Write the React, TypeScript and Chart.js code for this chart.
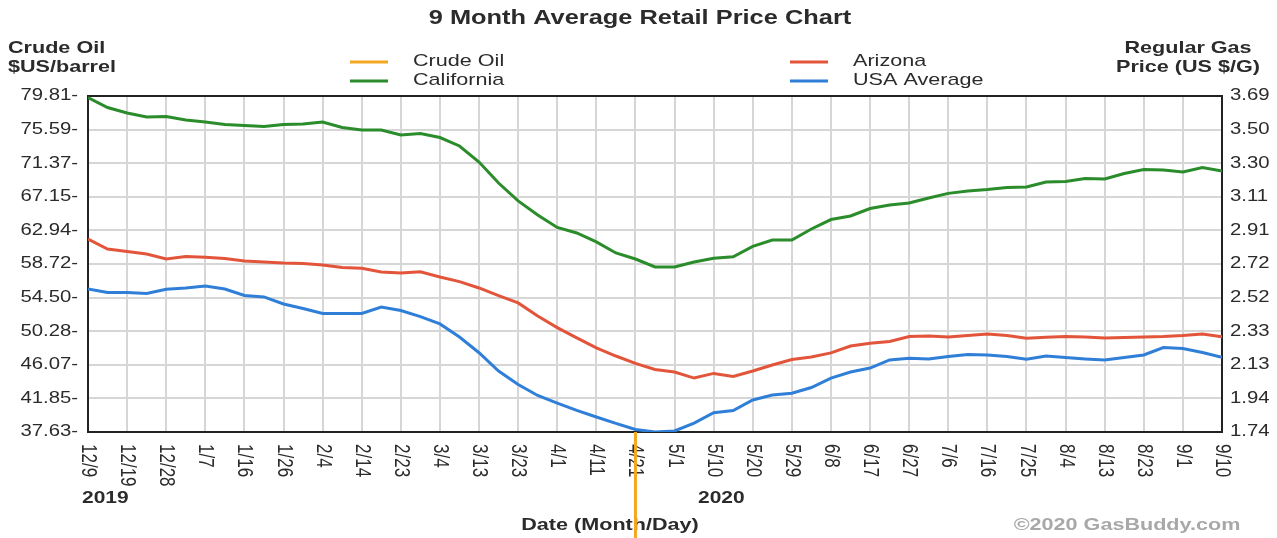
import React, { useEffect, useRef } from "react";
import { Chart, registerables } from "chart.js";

Chart.register(...registerables);

// ---- Data ----
const xTickLabels = [
  "12/9", "12/19", "12/28", "1/7", "1/16", "1/26", "2/4", "2/14", "2/23", "3/4",
  "3/13", "3/23", "4/1", "4/11", "4/21", "5/1", "5/10", "5/20", "5/29", "6/8",
  "6/17", "6/27", "7/6", "7/16", "7/25", "8/4", "8/13", "8/23", "9/1", "9/10",
];
const leftTickLabels = ["37.63", "41.85", "46.07", "50.28", "54.50", "58.72", "62.94", "67.15", "71.37", "75.59", "79.81"];
const rightTickLabels = ["1.74", "1.94", "2.13", "2.33", "2.52", "2.72", "2.91", "3.11", "3.30", "3.50", "3.69"];
const LEFT_MIN = 37.63;
const LEFT_MAX = 79.81;
const RIGHT_MIN = 1.74;
const RIGHT_MAX = 3.69;

// Gas prices ($/gal), one reading every half tick interval (12/9/2019 .. 9/10/2020)
const california = [
  3.681, 3.623, 3.591, 3.568, 3.571, 3.551, 3.539, 3.525, 3.519, 3.513,
  3.525, 3.528, 3.539, 3.507, 3.493, 3.493, 3.464, 3.472, 3.449, 3.400,
  3.307, 3.185, 3.081, 2.999, 2.927, 2.895, 2.843, 2.779, 2.744, 2.698,
  2.698, 2.727, 2.748, 2.757, 2.817, 2.854, 2.854, 2.918, 2.973, 2.994,
  3.037, 3.057, 3.069, 3.098, 3.125, 3.139, 3.147, 3.159, 3.162, 3.191,
  3.194, 3.211, 3.208, 3.240, 3.263, 3.261, 3.249, 3.275, 3.255,
];
const arizona = [
  2.860, 2.802, 2.788, 2.773, 2.744, 2.759, 2.754, 2.747, 2.732, 2.727,
  2.721, 2.718, 2.709, 2.695, 2.690, 2.669, 2.663, 2.670, 2.640, 2.613,
  2.576, 2.532, 2.489, 2.413, 2.346, 2.286, 2.228, 2.181, 2.138, 2.103,
  2.088, 2.053, 2.080, 2.062, 2.094, 2.129, 2.161, 2.175, 2.199, 2.239,
  2.255, 2.265, 2.294, 2.297, 2.291, 2.300, 2.309, 2.300, 2.284, 2.290,
  2.294, 2.291, 2.286, 2.288, 2.291, 2.294, 2.300, 2.309, 2.293,
];
const usaAverage = [
  2.570, 2.550, 2.550, 2.544, 2.568, 2.576, 2.587, 2.570, 2.532, 2.524,
  2.483, 2.457, 2.428, 2.428, 2.428, 2.465, 2.445, 2.410, 2.367, 2.291,
  2.200, 2.094, 2.016, 1.952, 1.908, 1.865, 1.827, 1.790, 1.755, 1.740,
  1.746, 1.792, 1.852, 1.865, 1.926, 1.955, 1.965, 1.998, 2.053, 2.088,
  2.111, 2.158, 2.168, 2.164, 2.178, 2.190, 2.187, 2.178, 2.162, 2.181,
  2.172, 2.164, 2.158, 2.172, 2.187, 2.230, 2.225, 2.201, 2.174,
];
// Crude oil ($/barrel): the only visible part is the plunge on 4/21
const crudeOilTick = 14;
const crudeOil = [37.63, -37.63];

const COLORS = {
  crude: "#f5a623",
  california: "#2a8c2a",
  arizona: "#e2553a",
  usa: "#2f7fd8",
  grid: "#d6d6d6",
  frame: "#222222",
  text: "#2b2b2b",
  copyright: "#a8a8a8",
};
const FONT = '"Liberation Sans", Arial, sans-serif';
const SX = 1.27; // horizontal stretch of all lettering

const toPoints = (arr: number[]) => arr.map((v, i) => ({ x: i / 2, y: v }));

function sText(ctx: CanvasRenderingContext2D, text: string, x: number, y: number, font: string, align: "left" | "right" | "center", color: string) {
  ctx.save();
  ctx.font = font;
  ctx.fillStyle = color;
  ctx.textBaseline = "middle";
  ctx.textAlign = "left";
  const w = ctx.measureText(text).width * SX;
  const left = align === "left" ? x : align === "right" ? x - w : x - w / 2;
  ctx.translate(left, y);
  ctx.scale(SX, 1);
  ctx.fillText(text, 0, 0);
  ctx.restore();
}

const decorPlugin = {
  id: "decor",
  beforeDatasetsDraw(chart: any) {
    const { ctx, chartArea } = chart;
    ctx.save();
    ctx.strokeStyle = COLORS.frame;
    ctx.lineWidth = 2;
    ctx.strokeRect(chartArea.left, chartArea.top, chartArea.right - chartArea.left, chartArea.bottom - chartArea.top);
    ctx.restore();
  },
  beforeDraw(chart: any) {
    const { ctx, chartArea, scales } = chart;
    // Title
    sText(ctx, "9 Month Average Retail Price Chart", 640, 18, `bold 20px ${FONT}`, "center", COLORS.text);
    // Axis titles
    sText(ctx, "Crude Oil", 8, 48, `bold 17px ${FONT}`, "left", COLORS.text);
    sText(ctx, "$US/barrel", 8, 67, `bold 17px ${FONT}`, "left", COLORS.text);
    sText(ctx, "Regular Gas", 1188, 48, `bold 17px ${FONT}`, "center", COLORS.text);
    sText(ctx, "Price (US $/G)", 1188, 67, `bold 17px ${FONT}`, "center", COLORS.text);
    // Legend
    const legend = [
      { label: "Crude Oil", color: COLORS.crude, x: 350, y: 62 },
      { label: "California", color: COLORS.california, x: 350, y: 81 },
      { label: "Arizona", color: COLORS.arizona, x: 790, y: 62 },
      { label: "USA Average", color: COLORS.usa, x: 790, y: 81 },
    ];
    legend.forEach((l) => {
      ctx.save();
      ctx.strokeStyle = l.color;
      ctx.lineWidth = 3;
      ctx.beginPath();
      ctx.moveTo(l.x, l.y);
      ctx.lineTo(l.x + 38, l.y);
      ctx.stroke();
      ctx.restore();
      sText(ctx, l.label, l.x + 63, l.y - 1, `17px ${FONT}`, "left", COLORS.text);
    });
    // Left and right tick labels
    const yl = scales.y;
    leftTickLabels.forEach((lab, k) => {
      const py = yl.getPixelForValue(LEFT_MIN + (k * (LEFT_MAX - LEFT_MIN)) / (leftTickLabels.length - 1));
      sText(ctx, lab + "-", chartArea.left - 10, py, `16px ${FONT}`, "right", COLORS.text);
      const ry = scales.y1.getPixelForValue(RIGHT_MIN + (k * (RIGHT_MAX - RIGHT_MIN)) / (rightTickLabels.length - 1));
      sText(ctx, rightTickLabels[k], chartArea.right + 8, ry, `16px ${FONT}`, "left", COLORS.text);
    });
    // Rotated x tick labels (reading downward)
    const xs = scales.x;
    xTickLabels.forEach((lab, i) => {
      const px = xs.getPixelForValue(i);
      ctx.save();
      ctx.font = `17px ${FONT}`;
      ctx.fillStyle = COLORS.text;
      ctx.translate(px, chartArea.bottom + 12);
      ctx.scale(SX, 1);
      ctx.rotate(Math.PI / 2);
      ctx.textAlign = "left";
      ctx.textBaseline = "middle";
      ctx.fillText(lab, 0, 0);
      ctx.restore();
    });
    // Years, axis name, copyright
    sText(ctx, "2019", 82, 498, `bold 16.5px ${FONT}`, "left", COLORS.text);
    sText(ctx, "2020", 698, 498, `bold 16.5px ${FONT}`, "left", COLORS.text);
    sText(ctx, "Date (Month/Day)", 610, 525, `bold 17px ${FONT}`, "center", COLORS.text);
    sText(ctx, "\u00A92020 GasBuddy.com", 1127, 525, `bold 17px ${FONT}`, "center", COLORS.copyright);
  },
};

export default function App() {
  const canvasRef = useRef<HTMLCanvasElement | null>(null);

  useEffect(() => {
    const canvas = canvasRef.current;
    if (!canvas) return;
    const chart = new Chart(canvas, {
      type: "line",
      data: {
        datasets: [
          {
            label: "Crude Oil",
            data: crudeOil.map((v) => ({ x: crudeOilTick, y: v })),
            borderColor: COLORS.crude,
            borderWidth: 3,
            pointRadius: 0,
            yAxisID: "y",
            clip: false as any,
            order: 0,
          },
          {
            label: "California",
            data: toPoints(california),
            borderColor: COLORS.california,
            borderWidth: 3,
            pointRadius: 0,
            yAxisID: "y1",
          },
          {
            label: "Arizona",
            data: toPoints(arizona),
            borderColor: COLORS.arizona,
            borderWidth: 3,
            pointRadius: 0,
            yAxisID: "y1",
          },
          {
            label: "USA Average",
            data: toPoints(usaAverage),
            borderColor: COLORS.usa,
            borderWidth: 3,
            pointRadius: 0,
            yAxisID: "y1",
          },
        ],
      },
      options: {
        responsive: false,
        animation: false,
        devicePixelRatio: 1,
        layout: { padding: { top: 96, left: 0, right: 0, bottom: 0 } },
        elements: { line: { tension: 0 } },
        plugins: {
          legend: { display: false },
          tooltip: { enabled: false },
          title: { display: false },
        },
        scales: {
          x: {
            type: "linear",
            min: 0,
            max: xTickLabels.length - 1,
            afterBuildTicks: (s: any) => {
              s.ticks = xTickLabels.map((_, i) => ({ value: i }));
            },
            afterFit: (s: any) => {
              s.height = 106;
            },
            ticks: { display: false },
            grid: { color: COLORS.grid, lineWidth: 2, drawTicks: false },
            border: { display: false },
          },
          y: {
            type: "linear",
            position: "left",
            min: LEFT_MIN,
            max: LEFT_MAX,
            afterBuildTicks: (s: any) => {
              s.ticks = leftTickLabels.map((_, k) => ({
                value: LEFT_MIN + (k * (LEFT_MAX - LEFT_MIN)) / (leftTickLabels.length - 1),
              }));
            },
            afterFit: (s: any) => {
              s.width = 88;
            },
            ticks: { display: false },
            grid: { color: COLORS.grid, lineWidth: 2, drawTicks: false },
            border: { display: false },
          },
          y1: {
            type: "linear",
            position: "right",
            min: RIGHT_MIN,
            max: RIGHT_MAX,
            afterBuildTicks: (s: any) => {
              s.ticks = rightTickLabels.map((_, k) => ({
                value: RIGHT_MIN + (k * (RIGHT_MAX - RIGHT_MIN)) / (rightTickLabels.length - 1),
              }));
            },
            afterFit: (s: any) => {
              s.width = 55;
            },
            ticks: { display: false },
            grid: { display: false, drawTicks: false },
            border: { display: false },
          },
        },
      } as any,
      plugins: [decorPlugin],
    });
    return () => chart.destroy();
  }, []);

  return (
    <div style={{ position: "absolute", left: 0, top: 0, width: 1277, height: 538, background: "#fff" }}>
      <canvas ref={canvasRef} width={1277} height={538} style={{ display: "block" }} />
    </div>
  );
}
